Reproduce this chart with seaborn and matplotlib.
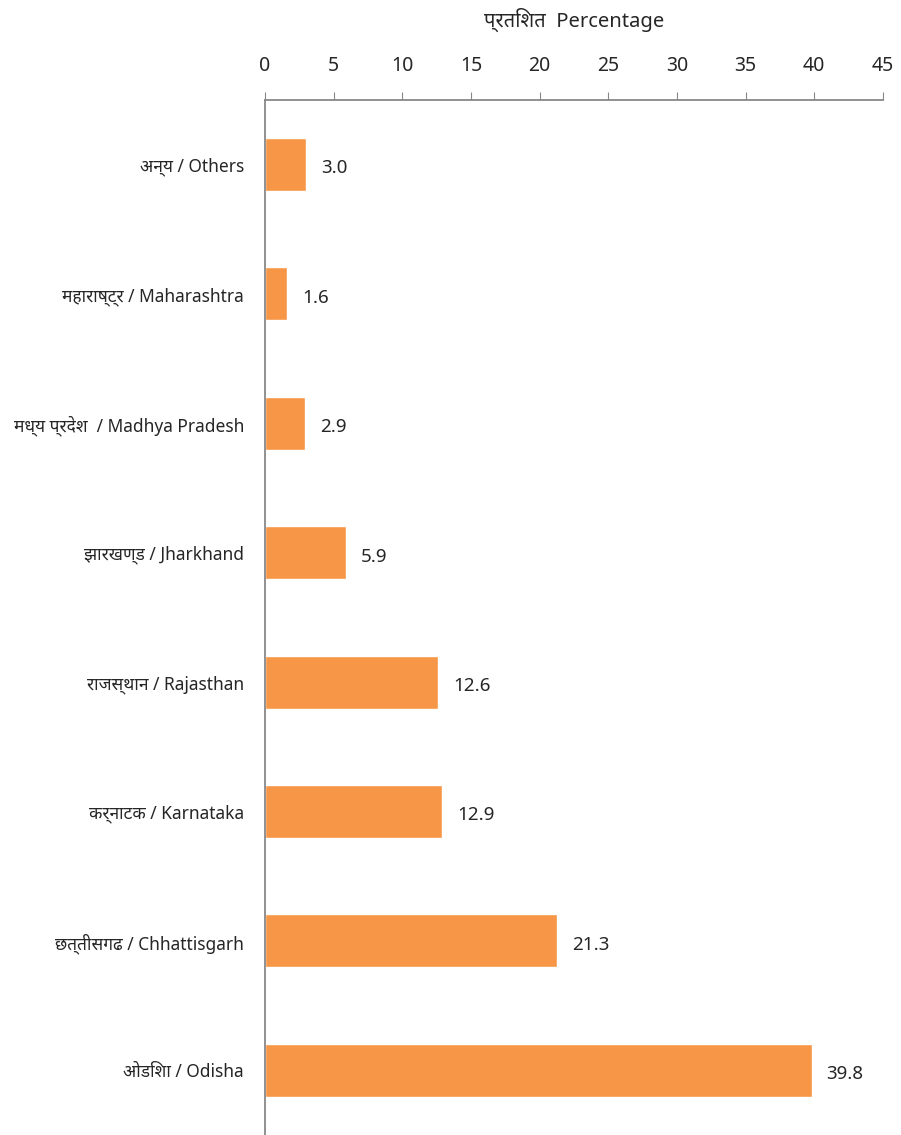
import matplotlib
matplotlib.use("Agg")
import matplotlib.pyplot as plt
import seaborn as sns
import pandas as pd

states = ["अन्य / Others", "महाराष्ट्र / Maharashtra", "मध्य प्रदेश  / Madhya Pradesh",
          "झारखण्ड / Jharkhand", "राजस्थान / Rajasthan", "कर्नाटक / Karnataka",
          "छत्तीसगढ / Chhattisgarh", "ओडिशा / Odisha"]
percent = [3.0, 1.6, 2.9, 5.9, 12.6, 12.9, 21.3, 39.8]
xticks = [0, 5, 10, 15, 20, 25, 30, 35, 40, 45]

df = pd.DataFrame({"state": states, "percent": percent})

sns.set_style("white")
plt.rcParams['font.family'] = ['Noto Sans', 'DejaVu Sans']

fig = plt.figure(figsize=(9.01, 11.35), dpi=100)
ax = fig.add_axes([0.294, 0.0, 0.686, 0.912])

sns.barplot(data=df, x="percent", y="state", color="#F79646", saturation=1,
            width=0.41, orient="h", ax=ax)

ax.set_xlim(0, 45)
ax.set_ylim(len(states) - 0.5, -0.5)
ax.set_xticks(xticks)
ax.xaxis.tick_top()
ax.xaxis.set_label_position("top")
ax.tick_params(axis="x", direction="out", length=6, color="#888888", labelsize=14, pad=11)
ax.tick_params(axis="y", length=0, labelsize=12.5, pad=15)
ax.set_xlabel("प्रतिशत  Percentage", fontsize=14.5, fontweight="bold", labelpad=21)
ax.set_ylabel("")

for side in ["right", "bottom"]:
    ax.spines[side].set_visible(False)
for side in ["top", "left"]:
    ax.spines[side].set_color("#888888")
    ax.spines[side].set_linewidth(1.3)

for i, v in enumerate(percent):
    ax.text(v + 1.1, i + 0.03, f"{v:.1f}", va="center", ha="left", fontsize=13.5)

fig.savefig("out.png", dpi=100)
